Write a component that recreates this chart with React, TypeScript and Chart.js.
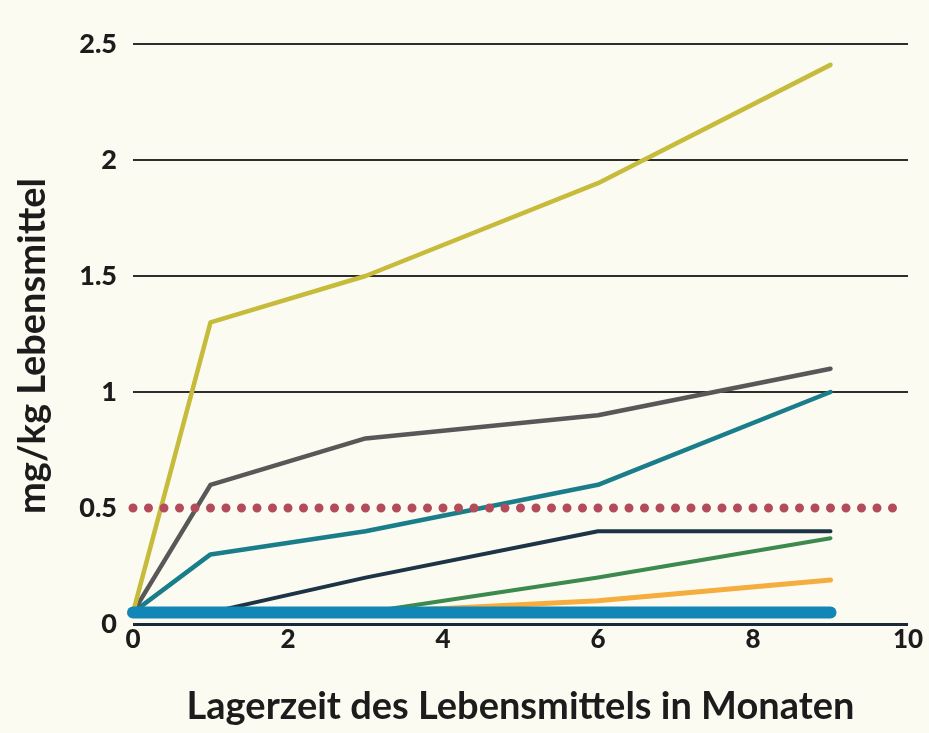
import React, { useEffect, useRef } from "react";
import { Chart, registerables } from "chart.js";

Chart.register(...registerables);

const months = [0, 1, 3, 6, 9];
const yellowSeries = [0.05, 1.3, 1.5, 1.9, 2.41];
const graySeries = [0.05, 0.6, 0.8, 0.9, 1.1];
const tealSeries = [0.05, 0.3, 0.4, 0.6, 1.0];
const navySeries = [0.05, 0.05, 0.2, 0.4, 0.4];
const greenSeries = [0.05, 0.05, 0.05, 0.2, 0.37];
const orangeSeries = [0.05, 0.05, 0.05, 0.1, 0.19];
const blueSeries = [0.05, 0.05, 0.05, 0.05, 0.05];
const limitX = [0, 10];
const limitY = [0.5, 0.5];

const xTitle = "Lagerzeit des Lebensmittels in Monaten";
const yTitle = "mg/kg Lebensmittel";

const FONT = "Lato, 'Open Sans', sans-serif";

function pts(xs: number[], ys: number[]) {
  return xs.map((x, i) => ({ x, y: ys[i] }));
}

const yTitlePlugin = {
  id: "yTitlePlugin",
  afterDraw(chart: any) {
    const ctx = chart.ctx;
    ctx.save();
    ctx.translate(33, 346);
    ctx.rotate(-Math.PI / 2);
    ctx.font = `bold 38px ${FONT}`;
    ctx.fillStyle = "#1c1c1c";
    ctx.textAlign = "center";
    ctx.textBaseline = "middle";
    ctx.fillText(yTitle, 0, 0);
    ctx.restore();
  },
};

export default function App() {
  const ref = useRef<HTMLCanvasElement | null>(null);
  useEffect(() => {
    if (!ref.current) return;
    const line = (data: any, color: string, width: number, extra: any = {}) => ({
      data,
      borderColor: color,
      backgroundColor: color,
      borderWidth: width,
      pointRadius: 0,
      tension: 0,
      fill: false,
      clip: false,
      borderCapStyle: "round",
      borderJoinStyle: "round",
      ...extra,
    });
    const chart = new Chart(ref.current, {
      type: "line",
      data: {
        datasets: [
          line(pts(months, blueSeries), "#1286b6", 12),
          line(pts(limitX, limitY), "#b44b5d", 9, { borderDash: [0, 15.5] }),
          line(pts(months, yellowSeries), "#c6bb3a", 4.5),
          line(pts(months, graySeries), "#585858", 4.5),
          line(pts(months, tealSeries), "#1a7d8a", 4.5),
          line(pts(months, navySeries), "#1e3446", 4),
          line(pts(months, greenSeries), "#3c8a4e", 4),
          line(pts(months, orangeSeries), "#f5ad3e", 5),
        ] as any,
      },
      plugins: [yTitlePlugin],
      options: {
        animation: false,
        responsive: false,
        devicePixelRatio: 1,
        layout: { padding: { left: 0, right: 21, top: 44, bottom: 0 } },
        plugins: { legend: { display: false }, tooltip: { enabled: false } },
        scales: {
          x: {
            type: "linear",
            min: 0,
            max: 10,
            grid: { display: false, drawTicks: false },
            border: { display: false },
            ticks: {
              stepSize: 2,
              padding: 0,
              color: "#1c1c1c",
              font: { family: FONT, size: 26, weight: 900 },
            },
            title: {
              display: true,
              text: xTitle,
              color: "#1c1c1c",
              font: { family: FONT, size: 38, weight: "bold" },
              padding: { top: 0, bottom: 3 },
            },
            afterFit: (s: any) => {
              s.height = 109;
            },
          },
          y: {
            type: "linear",
            min: 0,
            max: 2.5,
            grid: {
              drawTicks: false,
              color: (c: any) =>
                c.tick && c.tick.value === 0.5
                  ? "rgba(0,0,0,0)"
                  : c.tick && c.tick.value === 0
                  ? "#1b2a3a"
                  : "#2e2e2e",
              lineWidth: (c: any) => (c.tick && c.tick.value === 0 ? 3 : 2),
            },
            border: { display: false },
            ticks: {
              stepSize: 0.5,
              padding: 16,
              color: "#1c1c1c",
              font: { family: FONT, size: 27, weight: 900 },
              callback: (v: any) => String(v),
            },
            title: { display: false },
            afterFit: (s: any) => {
              s.width = 133;
            },
          },
        },
      } as any,
    });
    return () => chart.destroy();
  }, []);
  return (
    <canvas
      ref={ref}
      width={929}
      height={733}
      style={{
        position: "absolute",
        left: 0,
        top: 0,
        width: 929,
        height: 733,
        display: "block",
        background: "#fbfbf2",
      }}
    />
  );
}
